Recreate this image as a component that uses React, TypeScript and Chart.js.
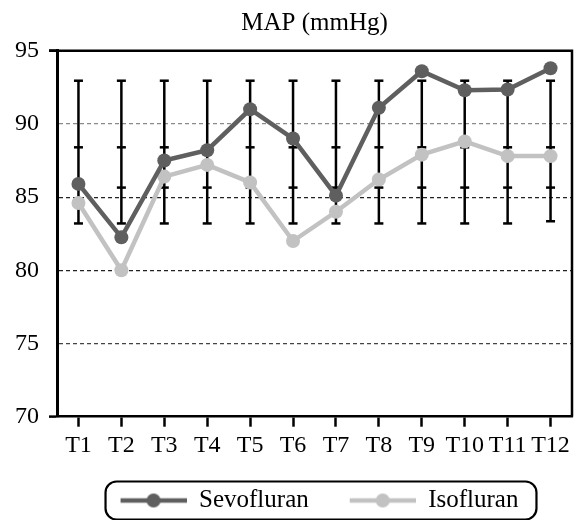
import React, { useEffect, useRef } from "react";
import { Chart, registerables } from "chart.js";

Chart.register(...registerables);

const FONT = "'Liberation Serif', 'Times New Roman', serif";

const categories = ["T1", "T2", "T3", "T4", "T5", "T6", "T7", "T8", "T9", "T10", "T11", "T12"];
const sevofluran = [85.9, 82.25, 87.5, 88.2, 91.0, 89.0, 85.1, 91.1, 93.6, 92.3, 92.35, 93.8];
const isofluran = [84.6, 80.0, 86.4, 87.2, 86.0, 82.0, 84.0, 86.2, 87.9, 88.8, 87.8, 87.8];

// error bar levels (whisker ends and inner tick marks)
const errTop = [92.95, 92.95, 92.95, 92.95, 92.95, 92.95, 92.95, 92.95, 92.95, 92.95, 92.95, 92.95];
const errUpperMid = [88.4, 88.4, 88.4, 88.4, 88.4, 88.4, 88.4, 88.4, 88.4, 88.4, 88.4, 88.4];
const errLowerMid = [85.65, 85.65, 85.65, 85.65, 85.65, 85.65, 85.65, 85.65, 85.65, 85.65, 85.65, 85.65];
const errBottom = [83.2, 83.2, 83.2, 83.2, 83.2, 83.2, 83.2, 83.2, 83.2, 83.2, 83.2, 83.35];

const yTicks = [70, 75, 80, 85, 90, 95];

const SEVO_COLOR = "#5f5f5f";
const ISO_COLOR = "#c2c2c2";

const SYMBOL_W = 66;
const SYMBOL_LEAD = 10;

function makeLegendSymbol(color: string): HTMLCanvasElement {
  const c = document.createElement("canvas");
  c.width = SYMBOL_W + SYMBOL_LEAD;
  c.height = 16;
  const ctx = c.getContext("2d")!;
  const x0 = SYMBOL_LEAD;
  ctx.strokeStyle = color;
  ctx.lineWidth = 4.5;
  ctx.beginPath();
  ctx.moveTo(x0, 8);
  ctx.lineTo(x0 + SYMBOL_W, 8);
  ctx.stroke();
  ctx.fillStyle = color;
  ctx.beginPath();
  ctx.arc(x0 + SYMBOL_W / 2, 8, 7, 0, Math.PI * 2);
  ctx.fill();
  return c;
}

const errorBarPlugin = {
  id: "errorBars",
  beforeDatasetsDraw(chart: any) {
    const { ctx, scales } = chart;
    const x = scales.x;
    const y = scales.y;
    ctx.save();
    ctx.strokeStyle = "#000";
    ctx.lineWidth = 2.5;
    for (let i = 0; i < categories.length; i++) {
      const px = x.getPixelForValue(i);
      ctx.beginPath();
      ctx.moveTo(px, y.getPixelForValue(errTop[i]));
      ctx.lineTo(px, y.getPixelForValue(errBottom[i]));
      ctx.stroke();
      [errTop[i], errUpperMid[i], errLowerMid[i], errBottom[i]].forEach((v) => {
        const py = y.getPixelForValue(v);
        ctx.beginPath();
        ctx.moveTo(px - 4.5, py);
        ctx.lineTo(px + 4.5, py);
        ctx.stroke();
      });
    }
    ctx.restore();
  },
};

const framePlugin = {
  id: "frame",
  afterDatasetsDraw(chart: any) {
    const { ctx, chartArea } = chart;
    ctx.save();
    ctx.strokeStyle = "#000";
    ctx.lineWidth = 2.5;
    ctx.beginPath();
    ctx.moveTo(chartArea.left - 8, chartArea.top);
    ctx.lineTo(chartArea.right, chartArea.top);
    ctx.lineTo(chartArea.right, chartArea.bottom);
    ctx.stroke();
    ctx.restore();
  },
};

const legendBoxPlugin = {
  id: "legendBox",
  afterDraw(chart: any) {
    const legend = chart.legend;
    if (!legend || !legend.legendHitBoxes || !legend.legendHitBoxes.length) return;
    const hb = legend.legendHitBoxes;
    let minX = Infinity;
    let maxX = -Infinity;
    let top = hb[0].top;
    hb.forEach((b: any) => {
      minX = Math.min(minX, b.left);
      maxX = Math.max(maxX, b.left + b.width);
      top = Math.min(top, b.top);
    });
    minX += SYMBOL_LEAD;
    const cy = top + 12.5;
    const { ctx } = chart;
    ctx.save();
    ctx.strokeStyle = "#000";
    ctx.lineWidth = 2.2;
    ctx.beginPath();
    (ctx as any).roundRect(minX - 15, cy - 19, maxX - minX + 33, 38, 11);
    ctx.stroke();
    ctx.restore();
  },
};

export default function App() {
  const canvasRef = useRef<HTMLCanvasElement | null>(null);

  useEffect(() => {
    if (!canvasRef.current) return;
    const symbols = [makeLegendSymbol(SEVO_COLOR), makeLegendSymbol(ISO_COLOR)];
    const chart = new Chart(canvasRef.current, {
      type: "line",
      data: {
        labels: categories,
        datasets: [
          {
            label: "Sevofluran",
            data: sevofluran,
            borderColor: SEVO_COLOR,
            backgroundColor: SEVO_COLOR,
            pointBackgroundColor: SEVO_COLOR,
            pointBorderWidth: 0,
            pointRadius: 7,
            borderWidth: 4.5,
            tension: 0,
          },
          {
            label: "Isofluran",
            data: isofluran,
            borderColor: ISO_COLOR,
            backgroundColor: ISO_COLOR,
            pointBackgroundColor: ISO_COLOR,
            pointBorderWidth: 0,
            pointRadius: 7,
            borderWidth: 4.5,
            tension: 0,
          },
        ],
      },
      options: {
        animation: false,
        responsive: true,
        maintainAspectRatio: false,
        layout: { padding: { left: 0, right: 1, top: 0, bottom: 0 } },
        scales: {
          x: {
            offset: true,
            grid: {
              display: true,
              drawOnChartArea: false,
              drawTicks: true,
              tickLength: 10,
              tickWidth: 2.5,
              tickColor: "#000",
              offset: false,
            },
            border: { display: true, color: "#000", width: 2.5 },
            ticks: {
              font: { family: FONT, size: 24 },
              color: "#000",
              padding: 5,
              maxRotation: 0,
              autoSkip: false,
            },
            afterFit(scale: any) {
              scale.height = 40.3;
            },
          },
          y: {
            min: 70,
            max: 95,
            afterBuildTicks(scale: any) {
              scale.ticks = yTicks.map((v) => ({ value: v }));
            },
            grid: {
              color: (c: any) => {
                const v = c.tick && c.tick.value;
                if (v === 90) return "#8a8a8a";
                if (v === 85 || v === 80) return "#222";
                if (v === 75) return "#444";
                return "rgba(0,0,0,0)";
              },
              lineWidth: 1.2,
              tickColor: (c: any) => {
                const v = c.tick && c.tick.value;
                return v === 95 || v === 70 ? "#000" : "rgba(0,0,0,0)";
              },
              tickLength: 8,
              tickWidth: 2.5,
              tickBorderDash: [],
            },
            border: { display: true, color: "#000", width: 3, dash: [4, 3] as any },
            ticks: {
              font: { family: FONT, size: 24 },
              color: "#000",
              padding: 10,
            },
            afterFit(scale: any) {
              scale.width = 49;
            },
          },
        },
        plugins: {
          title: {
            display: true,
            text: "MAP (mmHg)",
            fullSize: false,
            font: { family: FONT, size: 25, weight: "normal" },
            color: "#000",
            padding: { top: 0, bottom: 12.7 },
          },
          legend: {
            display: true,
            position: "bottom",
            fullSize: false,
            maxHeight: 63,
            labels: {
              usePointStyle: true,
              pointStyleWidth: SYMBOL_W + SYMBOL_LEAD,
              boxHeight: 25,
              padding: 31,
              color: "#000",
              font: { family: FONT, size: 25 },
              generateLabels(chart: any) {
                const items = Chart.defaults.plugins.legend.labels.generateLabels(chart);
                return items.map((it: any, i: number) => ({ ...it, pointStyle: symbols[i] }));
              },
            },
          },
          tooltip: { enabled: false },
        },
      },
      plugins: [errorBarPlugin, framePlugin, legendBoxPlugin],
    } as any);
    return () => chart.destroy();
  }, []);

  return (
    <div style={{ width: 571, height: 512, position: "relative" }}>
      <canvas ref={canvasRef} />
    </div>
  );
}
